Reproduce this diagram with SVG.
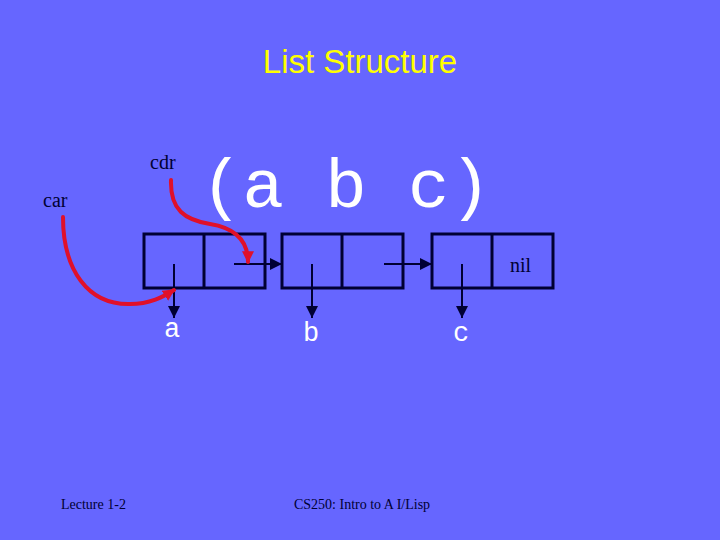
<svg xmlns="http://www.w3.org/2000/svg" width="720" height="540" viewBox="0 0 720 540">
<defs>
<style>
.cell{fill:none;stroke:#000033;stroke-width:3}
.ptr{stroke:#000033;stroke-width:2;fill:none}
.red{stroke:#E0102A;stroke-width:4;fill:none;stroke-linecap:round}
.lbl{font-family:"Liberation Serif",serif;font-size:20px;fill:#000033}
.mono{font-family:"Liberation Mono","Courier New",monospace;fill:#FFFFFF}
.foot{font-family:"Liberation Serif",serif;font-size:14px;fill:#000033}
</style>
<marker id="ah" viewBox="0 0 10 10" refX="10" refY="5" markerWidth="6" markerHeight="6" orient="auto" markerUnits="strokeWidth"><path d="M0,0 L10,5 L0,10 z" fill="#000033"/></marker>
<marker id="rh" viewBox="0 0 10 10" refX="9" refY="5" markerWidth="3" markerHeight="3" orient="auto" markerUnits="strokeWidth"><path d="M0,0 L10,5 L0,10 z" fill="#E0102A"/></marker>
</defs>
<rect width="720" height="540" fill="#6666FF"/>
<text x="360" y="73" text-anchor="middle" font-family="'Liberation Sans',Arial,sans-serif" font-size="33" fill="#FFFF00">List Structure</text>
<text class="mono" x="346" y="207" text-anchor="middle" font-size="69">(a b c)</text>
<g id="cell1"><rect class="cell" x="144" y="234" width="121" height="54"/><line class="cell" x1="204" y1="234" x2="204" y2="288"/></g>
<g id="cell2"><rect class="cell" x="282" y="234" width="121" height="54"/><line class="cell" x1="342" y1="234" x2="342" y2="288"/></g>
<g id="cell3"><rect class="cell" x="432" y="234" width="121" height="54"/><line class="cell" x1="492" y1="234" x2="492" y2="288"/></g>
<g id="labels">
<text class="lbl" x="150" y="169">cdr</text>
<text class="lbl" x="43" y="207">car</text>
<text class="lbl" x="510" y="272">nil</text>
<text class="mono" x="172" y="337" text-anchor="middle" font-size="27">a</text>
<text class="mono" x="311" y="341" text-anchor="middle" font-size="27">b</text>
<text class="mono" x="461" y="341" text-anchor="middle" font-size="27">c</text>
<text class="foot" x="61" y="509">Lecture 1-2</text>
<text class="foot" x="294" y="509">CS250: Intro to A I/Lisp</text>
</g>
<g id="connectors">
<line class="ptr" x1="174" y1="264" x2="174" y2="318" marker-end="url(#ah)"/>
<line class="ptr" x1="234" y1="264" x2="282" y2="264" marker-end="url(#ah)"/>
<line class="ptr" x1="312" y1="264" x2="312" y2="318" marker-end="url(#ah)"/>
<line class="ptr" x1="384" y1="264" x2="432" y2="264" marker-end="url(#ah)"/>
<line class="ptr" x1="462" y1="264" x2="462" y2="318" marker-end="url(#ah)"/>
<path class="red" d="M63,217 C63,270 88,305 130,304 C150,304 163,297 174,290" marker-end="url(#rh)"/>
<path class="red" d="M171,180 C170,210 185,220 210,224 C235,228 248,240 248,262" marker-end="url(#rh)"/>
</g>
</svg>
